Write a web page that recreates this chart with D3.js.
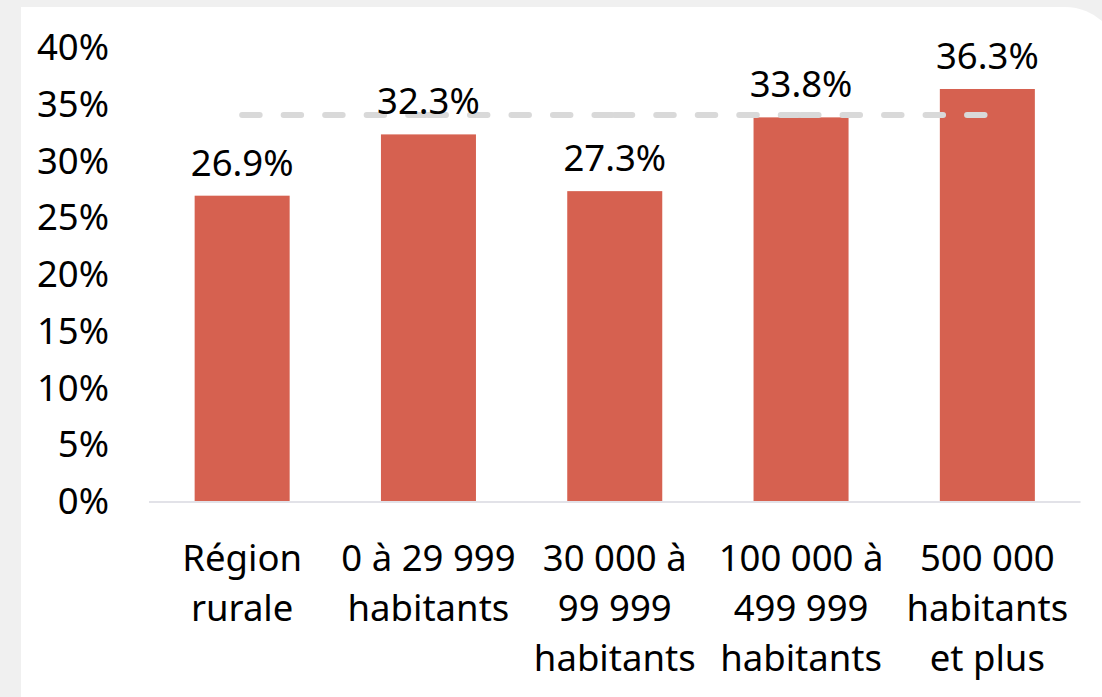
<!DOCTYPE html>
<html>
<head>
<meta charset="utf-8">
<script src="https://cdn.jsdelivr.net/npm/d3@7"></script>
<style>
  html, body { margin: 0; padding: 0; background: #f0f0f0; }
  svg { display: block; }
  text { font-family: "Noto Sans", "Open Sans", sans-serif; }
</style>
</head>
<body>
<svg id="chart" width="1102" height="697"></svg>
<script>
// Data
const categories = [
  ["Région", "rurale"],
  ["0 à 29 999", "habitants"],
  ["30 000 à", "99 999", "habitants"],
  ["100 000 à", "499 999", "habitants"],
  ["500 000", "habitants", "et plus"]
];
const values = [26.9, 32.3, 27.3, 33.8, 36.3];
const valueLabels = ["26.9%", "32.3%", "27.3%", "33.8%", "36.3%"];
const averageValue = 34.0;
const yTicks = [0, 5, 10, 15, 20, 25, 30, 35, 40];

const svg = d3.select("#chart");
const W = 1102, H = 697;
const FS = 36.5;

// background panel
svg.append("rect").attr("width", W).attr("height", H).attr("fill", "#f0f0f0");
svg.append("rect")
  .attr("x", 21).attr("y", 7).attr("width", 1100).attr("height", 800)
  .attr("rx", 56).attr("ry", 56).attr("fill", "#ffffff");
svg.append("rect")
  .attr("x", 21).attr("y", 7).attr("width", 200).attr("height", 800)
  .attr("fill", "#ffffff");

const x = d3.scaleBand()
  .domain(d3.range(categories.length))
  .range([149, 1080.5])
  .paddingInner(0.49)
  .paddingOuter(0.245);

const y = d3.scaleLinear().domain([0, 40]).range([501, 47]);

// y tick labels
svg.append("g").selectAll("text").data(yTicks).join("text")
  .attr("x", 109)
  .attr("y", d => y(d))
  .attr("dy", "0.36em")
  .attr("text-anchor", "end")
  .attr("font-size", FS)
  .attr("fill", "#000")
  .text(d => d + "%");

// bars
svg.append("g").selectAll("rect").data(values).join("rect")
  .attr("x", (d, i) => x(i))
  .attr("y", d => y(d))
  .attr("width", x.bandwidth())
  .attr("height", d => y(0) - y(d))
  .attr("fill", "#d66150");

// baseline axis
svg.append("line")
  .attr("x1", 149).attr("x2", 1080.5)
  .attr("y1", y(0) + 1).attr("y2", y(0) + 1)
  .attr("stroke", "#e2e2e8").attr("stroke-width", 2);

// average dashed line, drawn segment by segment between category centers
const centers = d3.range(categories.length).map(i => x(i) + x.bandwidth() / 2);
const segs = d3.pairs(centers);
svg.append("g").selectAll("line").data(segs).join("line")
  .attr("x1", d => d[0]).attr("x2", d => d[1])
  .attr("y1", y(averageValue)).attr("y2", y(averageValue))
  .attr("stroke", "#d9d9d9")
  .attr("stroke-width", 6)
  .attr("stroke-linecap", "round")
  .attr("stroke-dasharray", "17.5,24");

// value labels
svg.append("g").selectAll("text").data(values).join("text")
  .attr("x", (d, i) => centers[i])
  .attr("y", d => y(d) - 20)
  .attr("text-anchor", "middle")
  .attr("font-size", FS)
  .attr("fill", "#000")
  .text((d, i) => valueLabels[i]);

// category labels
const cat = svg.append("g").selectAll("text").data(categories).join("text")
  .attr("x", (d, i) => centers[i])
  .attr("y", 571)
  .attr("text-anchor", "middle")
  .attr("font-size", FS)
  .attr("fill", "#000");
cat.selectAll("tspan").data(d => d).join("tspan")
  .attr("x", function() { return d3.select(this.parentNode).attr("x"); })
  .attr("dy", (d, j) => j === 0 ? 0 : 50)
  .text(d => d);
</script>
</body>
</html>
